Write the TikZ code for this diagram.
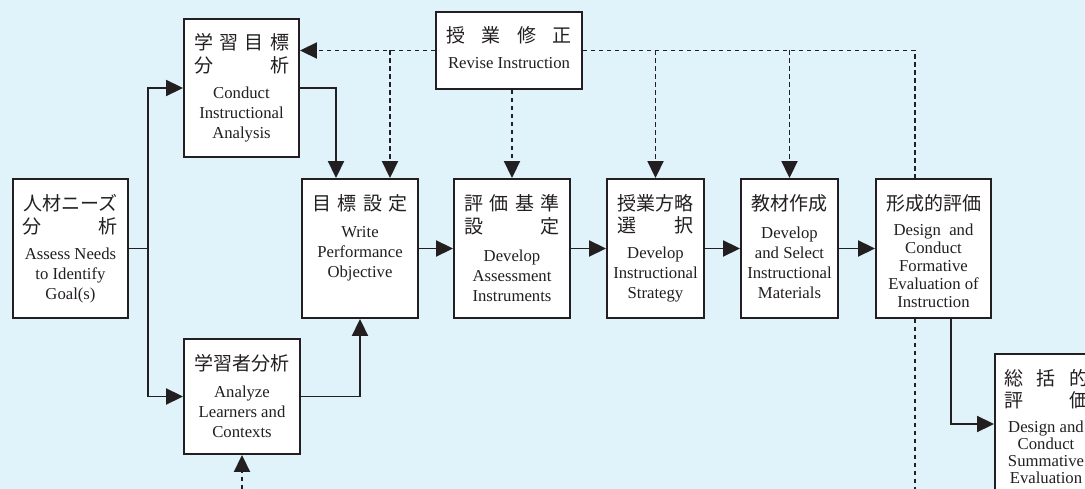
\documentclass[tikz,border=0pt]{standalone}
\usepackage{fontspec}
\setmainfont{Liberation Serif}
\newfontfamily\jpfont{Noto Sans CJK JP}
\usetikzlibrary{arrows.meta}
\definecolor{bgc}{RGB}{224,243,251}
\definecolor{ink}{RGB}{35,31,32}
\newcommand{\jw}[2]{\makebox[#1pt][s]{#2}}
\begin{document}
\begin{tikzpicture}[x=1pt,y=-1pt,
  box/.style={draw=ink, line width=1.9pt, fill=white, rectangle, inner sep=0pt},
  en/.style={inner sep=0pt, align=center, text=ink, font=\fontsize{16.7}{20}\selectfont},
  enf/.style={en, font=\fontsize{16.7}{18}\selectfont},
  ens/.style={en, font=\fontsize{16.7}{17}\selectfont},
  jp/.style={inner sep=0pt, align=center, text=ink, font=\jpfont\fontsize{19}{22.5}\selectfont},
  ln/.style={draw=ink, line width=1.9pt},
  arr/.style={ln, -{Triangle[length=17pt,width=16pt]}},
  dln/.style={draw=ink, line width=1.9pt, dash pattern=on 4.5pt off 3.5pt},
  darr/.style={dln, -{Triangle[length=17pt,width=16pt]}}]
\useasboundingbox (0,0) rectangle (1085,489);
\clip (0,0) rectangle (1085,489);
\fill[bgc] (0,0) rectangle (1085,489);

% boxes
\node[box, minimum width=115pt, minimum height=139pt] (needs) at (70.5,248.5) {};
\node[box, minimum width=115pt, minimum height=138pt] (ia) at (241.5,88) {};
\node[box, minimum width=146pt, minimum height=77pt] (rev) at (509,50.5) {};
\node[box, minimum width=116pt, minimum height=139pt] (obj) at (360,248.5) {};
\node[box, minimum width=116pt, minimum height=139pt] (asm) at (512,248.5) {};
\node[box, minimum width=97pt, minimum height=139pt] (str) at (655.5,248.5) {};
\node[box, minimum width=97pt, minimum height=139pt] (mat) at (789.5,248.5) {};
\node[box, minimum width=115pt, minimum height=139pt] (frm) at (933.5,248.5) {};
\node[box, minimum width=116pt, minimum height=115pt] (lrn) at (242,396.5) {};
\node[box, minimum width=102pt, minimum height=140pt] (sum) at (1046,424) {};

% texts
\node[jp] (needsJ) at (70.5,214.5) {人材ニーズ\\\jw{95}{分\hfill 析}};
\node[en] (needsE) at (70.5,275) {Assess Needs\\to Identify\\Goal(s)};
\node[jp] (iaJ) at (241.5,54) {\jw{95}{学\hfill 習\hfill 目\hfill 標}\\\jw{95}{分\hfill 析}};
\node[en] (iaE) at (241.5,115) {Conduct\\Instructional\\Analysis};
\node[jp] (revJ) at (509,35) {\jw{126}{授\hfill 業\hfill 修\hfill 正}};
\node[en] (revE) at (509,63) {Revise Instruction};
\node[jp] (objJ) at (360,203) {\jw{95}{目\hfill 標\hfill 設\hfill 定}};
\node[en] (objE) at (360,254) {Write\\Performance\\Objective};
\node[jp] (asmJ) at (512,215) {\jw{95}{評\hfill 価\hfill 基\hfill 準}\\\jw{95}{設\hfill 定}};
\node[en] (asmE) at (512,276) {Develop\\Assessment\\Instruments};
\node[jp] (strJ) at (655.5,214.5) {授業方略\\\jw{76}{選\hfill 択}};
\node[en] (strE) at (655.5,275) {Develop\\Instructional\\Strategy};
\node[jp] (matJ) at (789.5,203) {教材作成};
\node[en] (matE) at (789.5,262.5) {Develop\\and Select\\Instructional\\Materials};
\node[jp] (frmJ) at (933.5,203) {形成的評価};
\node[enf] (frmE) at (933.5,266) {Design~~and\\Conduct\\Formative\\Evaluation of\\Instruction};
\node[jp] (lrnJ) at (242,363) {学習者分析};
\node[en] (lrnE) at (242,412) {Analyze\\Learners and\\Contexts};
\node[jp] (sumJ) at (1046.5,389) {\jw{85}{総\hfill 括\hfill 的}\\\jw{85}{評\hfill 価}};
\node[ens] (sumE) at (1046,452.5) {Design and\\Conduct\\Summative\\Evaluation};

% solid connectors
\coordinate (trunk) at (148,248.5);
\draw[ln] (needs.east) -- (trunk);
\draw[arr] (trunk) |- (ia.west);
\draw[arr] (trunk) |- (lrn.west);
\draw[arr] (ia.east) -| ([xshift=-24pt]obj.north);
\draw[arr] (lrn.east) -| (obj.south);
\draw[arr] (obj.east) -- (asm.west);
\draw[arr] (asm.east) -- (str.west);
\draw[arr] (str.east) -- (mat.west);
\draw[arr] (mat.east) -- (frm.west);
\draw[arr] ([xshift=17.5pt]frm.south) |- (sum.west);

% dashed feedback
\draw[darr] (rev.west) -- (rev.west -| ia.east);
\draw[darr] ([xshift=30pt]obj.north |- rev.west) -- ([xshift=30pt]obj.north);
\draw[darr] (asm.north |- rev.south) -- (asm.north);
\draw[dln] (rev.east) -| ([xshift=-18.5pt]frm.north);
\draw[darr] (str.north |- rev.east) -- (str.north);
\draw[darr] (mat.north |- rev.east) -- (mat.north);
\coordinate (fbot) at (915,489);
\draw[dln] ([xshift=-18.5pt]frm.south) -- (fbot);
\coordinate (lbot) at (242,489);
\draw[darr] (lbot) -- (lrn.south);
\end{tikzpicture}
\end{document}
